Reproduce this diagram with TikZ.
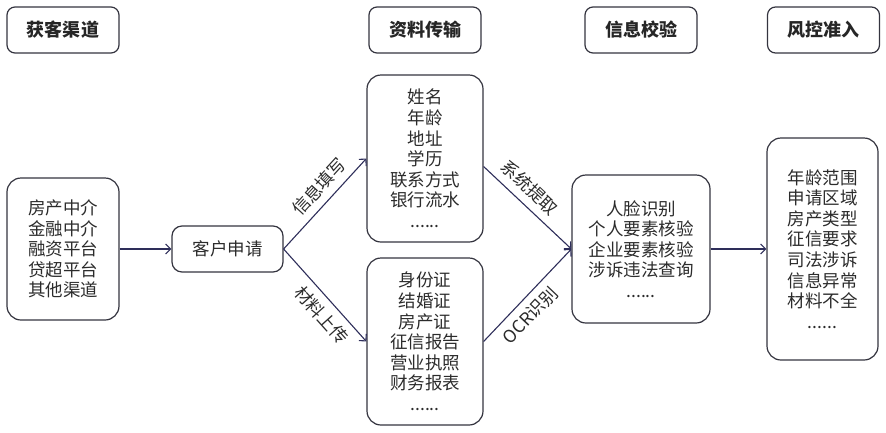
\documentclass[tikz,border=0pt]{standalone}
\usepackage{fontspec}
\newfontfamily\cjk{Noto Sans CJK SC}
\usetikzlibrary{arrows.meta}
\definecolor{boxline}{HTML}{34343F}
\definecolor{arrowline}{HTML}{2E2E5A}
\definecolor{inktext}{HTML}{2B2B2B}

\begin{document}
\begin{tikzpicture}[x=1pt, y=-1pt,
    flow box/.style={draw=boxline, line width=1.2pt, rounded corners=14pt, align=center, inner sep=0pt, text=inktext, font=\cjk\fontsize{17.5}{20.6}\selectfont},
    head box/.style={draw=boxline, line width=1.2pt, rounded corners=8pt, minimum width=112pt, minimum height=46pt, inner sep=0pt, text=black!85, font=\cjk\bfseries\fontsize{18}{20}\selectfont},
    flow/.style={draw=arrowline, line width=1.1pt, -{Straight Barb[length=5pt,width=10pt]}},
    edge text/.style={sloped, text=inktext, font=\cjk\fontsize{17.5}{20}\selectfont}]
    \useasboundingbox (0,0) rectangle (886,432);

    % column heads
    \node[head box] (hsrc) at (63,30) {获客渠道};
    \node[head box] (hinfo) at (425,30) {资料传输};
    \node[head box] (hcheck) at (641,30) {信息校验};
    \node[head box] (hadmit) at (823.5,30) {风控准入};

    \node[flow box, minimum width=112pt, minimum height=142pt] (src) at (63,249) {房产中介\\金融中介\\融资平台\\贷超平台\\其他渠道};
    \node[flow box, rounded corners=10pt, minimum width=111pt, minimum height=46pt] (apply) at (227.5,249) {客户申请};
    \node[flow box, minimum width=116pt, minimum height=167pt] (info) at (425,158.5) {姓名\\年龄\\地址\\学历\\联系方式\\银行流水\\......};
    \node[flow box, minimum width=116pt, minimum height=167pt] (docs) at (425,341.5) {身份证\\结婚证\\房产证\\征信报告\\营业执照\\财务报表\\......};
    \node[flow box, minimum width=138pt, minimum height=148pt] (check) at (641,249) {人脸识别\\个人要素核验\\企业要素核验\\涉诉违法查询\\......};
    \node[flow box, minimum width=111pt, minimum height=222pt] (admit) at (822.5,249) {年龄范围\\申请区域\\房产类型\\征信要求\\司法涉诉\\信息异常\\材料不全\\......};

    \draw[flow] (src) -- (apply);
    \draw[flow] (apply.east) -- (info.west) node[edge text, pos=0.57, above=4pt] {信息填写};
    \draw[flow] (apply.east) -- (docs.west) node[edge text, pos=0.6, below=4pt] {材料上传};
    \draw[flow] ([yshift=-8pt]info.east) -- (check.west) node[edge text, pos=0.4, above=4pt] {系统提取};
    \draw[flow] (docs.east) -- (check.west) node[edge text, pos=0.4, below=4pt] {OCR识别};
    \draw[flow] (check) -- (admit);
\end{tikzpicture}
\end{document}
